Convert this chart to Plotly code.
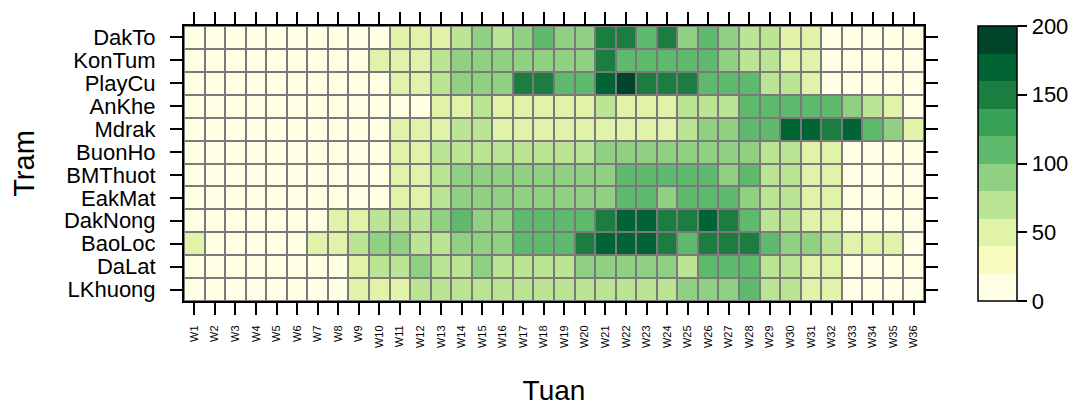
import plotly.graph_objects as go

weeks = [f"W{i}" for i in range(1, 37)]
stations = ["DakTo", "KonTum", "PlayCu", "AnKhe", "Mdrak", "BuonHo",
            "BMThuot", "EakMat", "DakNong", "BaoLoc", "DaLat", "LKhuong"]

# estimated values, one list per station (W1..W36)
DakTo   = [8,8,8,8,8,8,8,8,8,8, 48,50,52,66,90,68,92,112,90,92, 148,146,112,145,92,112,90,66,68,50, 48,8,8,8,8,8]
KonTum  = [8,8,8,8,8,8,8,8,8,48, 50,52,66,90,92,90,92,92,90,92, 146,112,113,112,114,112,90,66,68,50, 48,8,8,8,8,8]
PlayCu  = [8,8,8,8,8,8,8,8,8,8, 48,50,66,90,92,90,145,148,112,114, 170,192,146,148,145,112,113,112,66,68, 50,8,8,8,8,8]
AnKhe   = [8,8,8,8,8,8,8,8,8,8, 14,6,48,50,66,50,48,52,50,48, 66,50,48,52,66,68,66,112,113,112, 114,112,90,66,50,8]
Mdrak   = [8,8,8,8,8,8,8,8,8,8, 48,50,52,66,68,50,48,52,50,48, 50,48,52,50,66,90,92,112,113,170, 172,148,171,112,90,48]
BuonHo  = [8,8,8,8,8,8,8,8,8,8, 48,50,66,66,68,66,67,66,68,66, 90,92,90,91,92,90,92,90,66,68, 50,48,8,8,8,8]
BMThuot = [8,8,8,8,8,8,8,8,8,8, 48,50,66,90,92,90,91,92,90,92, 90,112,113,112,114,112,90,112,66,68, 50,48,8,8,8,8]
EakMat  = [8,8,8,8,8,8,8,8,8,8, 48,50,66,90,92,90,91,92,90,92, 90,112,113,90,112,114,112,90,66,68, 50,48,8,8,8,8]
DakNong = [8,8,8,8,8,8,8,48,50,66, 67,68,90,112,90,92,113,112,114,112, 146,170,172,145,148,171,146,112,66,68, 50,48,8,8,8,8]
BaoLoc  = [48,8,8,8,8,8,48,50,66,90, 92,67,66,90,92,90,112,113,112,145, 170,172,171,146,112,148,146,145,112,90, 92,66,50,48,52,8]
DaLat   = [8,8,8,8,8,8,8,8,48,66, 68,90,66,67,92,66,68,66,67,90, 92,90,91,92,66,112,113,112,66,68, 50,48,8,8,8,8]
LKhuong = [8,8,8,8,8,8,8,8,48,50, 52,66,66,68,66,67,66,68,66,67, 66,68,66,67,90,92,90,112,66,68, 50,48,8,8,8,8]

z = [DakTo, KonTum, PlayCu, AnKhe, Mdrak, BuonHo, BMThuot, EakMat,
     DakNong, BaoLoc, DaLat, LKhuong]

bin_colors = ["#FFFFE5", "#F8FCBE", "#E0F3A8", "#BCE495", "#90D083",
              "#60BA6D", "#37A155", "#1B7D40", "#006435", "#004529"]
n = len(bin_colors)
colorscale = []
for i, c in enumerate(bin_colors):
    colorscale.append([i / n, c])
    colorscale.append([(i + 1) / n, c])

font_family = "Liberation Sans, Arial, sans-serif"

fig = go.Figure(go.Heatmap(
    z=z, x=weeks, y=stations,
    zmin=0, zmax=200,
    colorscale=colorscale,
    xgap=2, ygap=2,
    colorbar=dict(
        thickness=39, lenmode="pixels", len=275,
        x=(981 - 184) / 743, xanchor="left", xpad=0,
        y=0.5, yanchor="middle", ypad=0,
        outlinewidth=1.5, outlinecolor="black",
        ticks="outside", ticklen=10, tickwidth=1.5, tickcolor="black",
        tickvals=[0, 50, 100, 150, 200],
        tickfont=dict(size=22, color="black", family=font_family),
    ),
))

axis_common = dict(
    showline=True, linewidth=2, linecolor="black", mirror="allticks",
    ticks="outside", ticklen=12, tickwidth=2, tickcolor="black",
    showgrid=False, zeroline=False, automargin=False,
)

fig.update_xaxes(
    **axis_common, type="category", tickangle=-90,
    tickmode="array", tickvals=weeks, ticktext=weeks,
    tickfont=dict(size=11, color="black", family=font_family),
    ticklabelstandoff=6,
    title=dict(text="Tuan", font=dict(size=28, color="black", family=font_family), standoff=53),
)
fig.update_yaxes(
    **axis_common, type="category", autorange="reversed",
    tickmode="array", tickvals=stations, ticktext=stations,
    tickfont=dict(size=22, color="black", family=font_family),
    ticklabelstandoff=10,
    title=dict(text="Tram", font=dict(size=29, color="black", family=font_family), standoff=28),
)

fig.update_layout(
    width=1073, height=398,
    margin=dict(l=176, r=154, t=18, b=105),
    plot_bgcolor="#7a7a7a", paper_bgcolor="white",
    font=dict(family=font_family),
)

fig.write_html("out.html")
